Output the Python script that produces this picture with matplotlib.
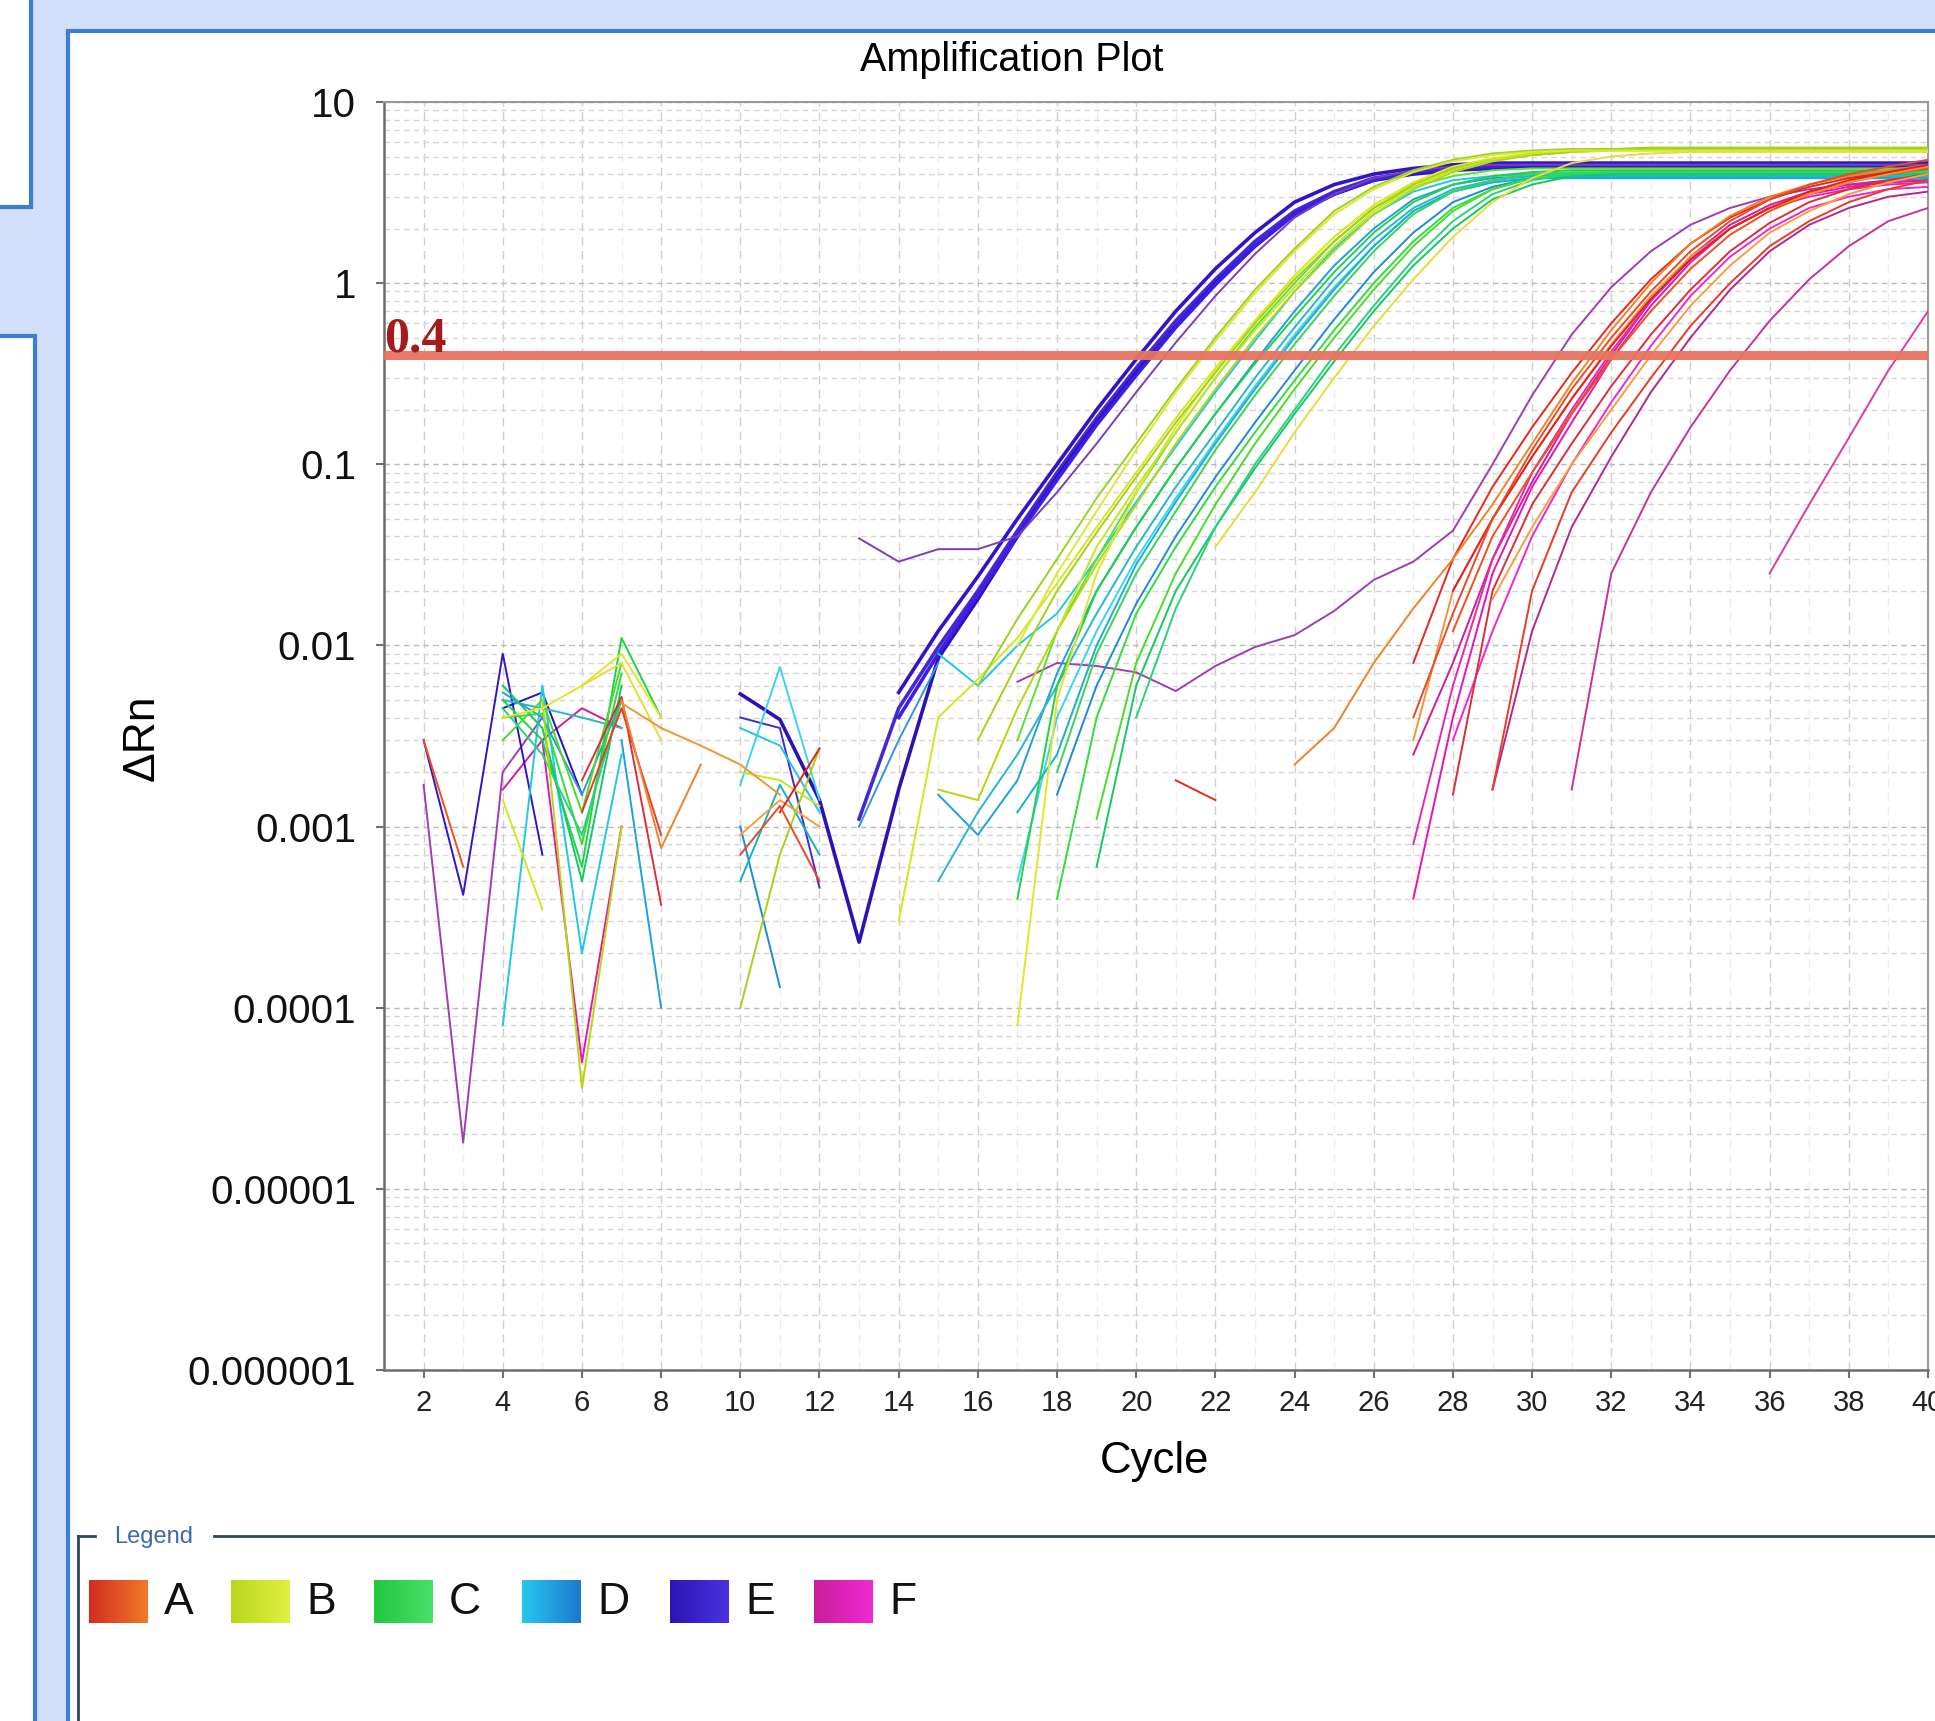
import numpy as np
import matplotlib
matplotlib.use("Agg")
import matplotlib.pyplot as plt
from matplotlib.patches import Rectangle
from matplotlib.colors import LinearSegmentedColormap
from matplotlib.ticker import FixedLocator, NullFormatter, LogLocator

plt.rcParams['font.family'] = ['Liberation Sans', 'DejaVu Sans']

nan = np.nan

# ---- data: (first cycle, dRn per cycle) ----
group_names = ['A', 'B', 'C', 'D', 'E', 'F']
threshold = 0.4
cycle_ticks = list(range(2, 41, 2))
rn_ticks = [1e-6, 1e-5, 1e-4, 1e-3, 1e-2, 1e-1, 1, 10]
rn_tick_labels = ['0.000001', '0.00001', '0.0001', '0.001', '0.01', '0.1', '1', '10']

A_wells = [
    (27, [0.008, 0.03, 0.075, 0.16, 0.32, 0.6, 1.05, 1.65, 2.3, 2.9, 3.4, 3.8, 4.1, 4.3]),
    (28, [0.012, 0.04, 0.09, 0.19, 0.38, 0.7, 1.2, 1.85, 2.5, 3.1, 3.6, 4.0, 4.3]),
    (28, [0.0015, 0.02, 0.06, 0.13, 0.27, 0.52, 0.92, 1.5, 2.15, 2.8, 3.3, 3.7, 4.0]),
    (29, [0.0016, 0.02, 0.07, 0.15, 0.3, 0.58, 1.0, 1.6, 2.2, 2.8, 3.3, 3.7]),
    (24, [0.0022, 0.0035, 0.008, 0.016, 0.03, 0.06, 0.13, 0.28, 0.55, 1.0, 1.65, 2.35, 3.0, 3.5, 3.9, 4.2, 4.5]),
    (27, [0.003, 0.02, 0.05, 0.11, 0.23, 0.46, 0.85, 1.4, 2.0, 2.6, 3.1, 3.6, 4.0, 4.4]),
    (29, [0.018, 0.045, 0.1, 0.2, 0.4, 0.75, 1.25, 1.9, 2.5, 3.1, 3.6, 4.0]),
    (28, [0.02, 0.05, 0.11, 0.23, 0.45, 0.82, 1.35, 2.0, 2.6, 3.2, 3.7, 4.1, 4.5]),
    (27, [0.004, 0.015, 0.05, 0.12, 0.26, 0.5, 0.9, 1.5, 2.2, 2.9, 3.5, 4.0, 4.4, 4.8]),
    (21, [0.0018, 0.0014]),
    (2, [0.003, 0.0006]),
    (6, [0.0018, 0.0052, 0.00037]),
    (6, [0.0012, 0.0045, 0.0009]),
    (7, [0.005, 0.00076, 0.0022]),
    (7, [0.0048, 0.0035, 0.0028, 0.0022, 0.0015]),
    (10, [0.0009, 0.0014, 0.001]),
    (11, [0.0012, 0.0027]),
    (10, [0.0007, 0.0013, 0.0005]),
]

B_wells = [
    (14, [0.0003, 0.004, 0.0065, 0.011, 0.022, 0.045, 0.09, 0.18, 0.34, 0.62, 1.1, 1.8, 2.7, 3.6, 4.3,
          4.8, 5.1, 5.3, 5.4, 5.4, 5.4, 5.4, 5.4, 5.4, 5.4, 5.4, 5.4]),
    (15, [0.0016, 0.0014, 0.0045, 0.012, 0.028, 0.06, 0.13, 0.26, 0.5, 0.9, 1.5, 2.4, 3.3, 4.1, 4.7,
          5.1, 5.3, 5.4, 5.5, 5.5, 5.5, 5.5, 5.5, 5.5, 5.5, 5.5]),
    (17, [0.00008, 0.005, 0.025, 0.07, 0.16, 0.33, 0.62, 1.1, 1.8, 2.7, 3.6, 4.4, 4.9, 5.2, 5.3,
          5.4, 5.4, 5.4, 5.4, 5.4, 5.4, 5.4, 5.4, 5.4]),
    (16, [0.003, 0.008, 0.02, 0.042, 0.085, 0.17, 0.32, 0.6, 1.05, 1.7, 2.6, 3.5, 4.3, 4.8, 5.1,
          5.3, 5.5, 5.6, 5.6, 5.6, 5.6, 5.6, 5.6, 5.6, 5.6]),
    (22, [0.035, 0.07, 0.15, 0.3, 0.58, 1.05, 1.8, 2.8, 3.8, 4.6, 5.0, 5.2, 5.3, 5.3, 5.3, 5.3, 5.3, 5.3, 5.3]),
    (18, [0.012, 0.035, 0.075, 0.15, 0.3, 0.55, 0.95, 1.6, 2.5, 3.4, 4.2, 4.8, 5.2, 5.4, 5.5,
          5.5, 5.5, 5.5, 5.5, 5.5, 5.5, 5.5, 5.5]),
    (16, [0.006, 0.014, 0.03, 0.065, 0.13, 0.26, 0.5, 0.92, 1.55, 2.5, 3.4, 4.2, 4.8, 5.2, 5.4,
          5.5, 5.5, 5.5, 5.5, 5.5, 5.5, 5.5, 5.5, 5.5, 5.5]),
    (17, [0.01, 0.025, 0.055, 0.12, 0.25, 0.48, 0.88, 1.5, 2.4, 3.3, 4.1, 4.7, 5.1, 5.3, 5.4,
          5.4, 5.4, 5.4, 5.4, 5.4, 5.4, 5.4, 5.4, 5.4]),
    (4, [0.0014, 0.00035]),
    (5, [0.005, 0.000036, 0.001]),
    (4, [0.004, 0.0045, 0.006, 0.009, 0.004]),
    (10, [0.0001, 0.0007, 0.0027]),
    (6, [0.006, 0.008, 0.003]),
    (10, [0.002, 0.0018, 0.0013]),
]

C_wells = [
    (17, [0.0004, 0.006, 0.02, 0.045, 0.095, 0.19, 0.36, 0.65, 1.15, 1.9, 2.8, 3.5, 3.9, 4.1, 4.2,
          4.2, 4.2, 4.2, 4.2, 4.2, 4.2, 4.2, 4.2, 4.2]),
    (18, [0.0004, 0.004, 0.015, 0.035, 0.075, 0.15, 0.29, 0.55, 1.0, 1.7, 2.6, 3.3, 3.8, 4.0, 4.1,
          4.1, 4.1, 4.1, 4.1, 4.1, 4.1, 4.1, 4.1]),
    (19, [0.0006, 0.006, 0.02, 0.045, 0.095, 0.19, 0.37, 0.7, 1.25, 2.0, 2.9, 3.5, 3.9, 4.0, 4.0,
          4.0, 4.0, 4.0, 4.0, 4.0, 4.0, 4.0]),
    (19, [0.0011, 0.008, 0.025, 0.06, 0.13, 0.26, 0.5, 0.92, 1.6, 2.5, 3.3, 3.8, 4.0, 4.1, 4.1,
          4.1, 4.1, 4.1, 4.1, 4.1, 4.1, 4.1]),
    (20, [0.004, 0.016, 0.045, 0.1, 0.2, 0.4, 0.75, 1.35, 2.2, 3.1, 3.7, 4.0, 4.1, 4.1, 4.1,
          4.1, 4.1, 4.1, 4.1, 4.1, 4.1]),
    (18, [0.002, 0.009, 0.025, 0.055, 0.12, 0.24, 0.46, 0.85, 1.5, 2.4, 3.2, 3.7, 4.0, 4.1, 4.1,
          4.1, 4.1, 4.1, 4.1, 4.1, 4.1, 4.1, 4.1]),
    (17, [0.003, 0.012, 0.03, 0.07, 0.15, 0.3, 0.57, 1.0, 1.7, 2.6, 3.4, 3.9, 4.2, 4.3, 4.3,
          4.3, 4.3, 4.3, 4.3, 4.3, 4.3, 4.3, 4.3, 4.3]),
    (4, [0.005, 0.003, 0.0006, 0.011, 0.004]),
    (4, [0.004, 0.0042, 0.0008, 0.007]),
    (4, [0.006, 0.0035, 0.0005, 0.006]),
    (4, [0.003, 0.005, 0.0012, 0.008]),
    (4, [0.0045, 0.0025, 0.0009, 0.005]),
]

D_wells = [
    (15, [0.009, 0.006, 0.01, 0.015, 0.03, 0.062, 0.125, 0.25, 0.48, 0.9, 1.55, 2.4, 3.2, 3.7, 3.9,
          4.0, 4.0, 4.0, 4.0, 4.0, 4.0, 4.0, 4.0, 4.0, 4.0, 4.0]),
    (15, [0.0015, 0.0009, 0.0018, 0.007, 0.02, 0.045, 0.095, 0.19, 0.37, 0.7, 1.25, 2.0, 2.9, 3.5, 3.8,
          3.9, 3.9, 3.9, 3.9, 3.9, 3.9, 3.9, 3.9, 3.9, 3.9, 3.9]),
    (15, [0.0005, 0.0012, 0.0025, 0.006, 0.015, 0.035, 0.075, 0.15, 0.3, 0.57, 1.05, 1.75, 2.6, 3.3, 3.7,
          3.9, 3.9, 3.9, 3.9, 3.9, 3.9, 3.9, 3.9, 3.9, 3.9, 3.9]),
    (17, [0.0005, 0.004, 0.012, 0.03, 0.065, 0.135, 0.27, 0.52, 0.95, 1.6, 2.5, 3.2, 3.6, 3.8, 3.8,
          3.8, 3.8, 3.8, 3.8, 3.8, 3.8, 3.8, 3.8, 3.8]),
    (18, [0.0015, 0.006, 0.017, 0.04, 0.085, 0.17, 0.33, 0.63, 1.15, 1.9, 2.8, 3.4, 3.8, 3.8, 3.8,
          3.8, 3.8, 3.8, 3.8, 3.8, 3.8, 3.8, 3.8]),
    (17, [0.0012, 0.0025, 0.01, 0.028, 0.062, 0.13, 0.26, 0.5, 0.92, 1.6, 2.5, 3.2, 3.6, 3.8, 3.8,
          3.8, 3.8, 3.8, 3.8, 3.8, 3.8, 3.8, 3.8, 3.8]),
    (13, [0.001, 0.003, 0.008]),
    (4, [0.00008, 0.006, 0.0002, 0.0025]),
    (7, [0.003, 0.0001]),
    (4, [0.005, 0.0045, 0.004, 0.0035]),
    (10, [0.0017, 0.0076, 0.0014]),
    (10, [0.001, 0.00013]),
    (10, [0.0005, 0.0017, 0.0007]),
    (4, [0.0055, 0.004, 0.0015, 0.005]),
    (10, [0.0035, 0.0028, 0.0012]),
]

E_wells = [
    (14, [0.0055, 0.012, 0.024, 0.05, 0.1, 0.2, 0.38, 0.7, 1.2, 1.9, 2.8, 3.5, 4.0, 4.3, 4.5,
          4.6, 4.6, 4.6, 4.6, 4.6, 4.6, 4.6, 4.6, 4.6, 4.6, 4.6, 4.6]),
    (13, [0.0011, 0.0045, 0.0098, 0.02, 0.043, 0.09, 0.18, 0.34, 0.62, 1.05, 1.7, 2.5, 3.2, 3.8, 4.1,
          4.3, 4.4, 4.5, 4.5, 4.5, 4.5, 4.5, 4.5, 4.5, 4.5, 4.5, 4.5, 4.5]),
    (10, [0.0054, 0.0039, 0.0014, 0.00023, 0.0016, 0.0085, 0.018, 0.04, 0.085, 0.17, 0.32, 0.58, 1.0, 1.6, 2.4,
          3.1, 3.7, 4.0, 4.2, 4.3, 4.4, 4.4, 4.4, 4.4, 4.4, 4.4, 4.4, 4.4, 4.4, 4.4, 4.4]),
    (14, [0.004, 0.009, 0.019, 0.04, 0.082, 0.165, 0.31, 0.57, 0.98, 1.6, 2.4, 3.1, 3.7, 4.1, 4.3,
          4.4, 4.5, 4.5, 4.5, 4.5, 4.5, 4.5, 4.5, 4.5, 4.5, 4.5, 4.5]),
    (13, [0.039, 0.029, 0.034, 0.034, 0.04, 0.07, 0.13, 0.25, 0.47, 0.85, 1.45, 2.3, 3.1, 3.8, 4.2,
          4.4, 4.5, 4.5, 4.5, 4.5, 4.5, 4.5, 4.5, 4.5, 4.5, 4.5, 4.5, 4.5]),
    (2, [0.003, 0.00042, 0.009, 0.0007]),
    (10, [0.004, 0.0035, 0.00046]),
    (4, [0.0045, 0.0055, 0.0015]),
]

F_wells = [
    (17, [0.0063, 0.008, 0.0077, 0.0071, 0.0056, 0.0077, 0.0098, 0.0114, 0.0155, 0.023, 0.029, 0.043,
          0.1, 0.24, 0.52, 0.95, 1.5, 2.1, 2.6, 3.0, 3.3, 3.5, 3.6, 3.7]),
    (27, [0.0004, 0.004, 0.025, 0.075, 0.17, 0.38, 0.75, 1.3, 2.0, 2.6, 3.1, 3.4, 3.6, 3.7]),
    (27, [0.0025, 0.008, 0.03, 0.08, 0.19, 0.4, 0.8, 1.4, 2.1, 2.7, 3.2, 3.5, 3.7, 3.8]),
    (28, [0.003, 0.012, 0.04, 0.1, 0.22, 0.45, 0.85, 1.4, 2.0, 2.6, 3.0, 3.3, 3.4]),
    (29, [0.0016, 0.012, 0.045, 0.11, 0.25, 0.5, 0.92, 1.5, 2.1, 2.6, 3.0, 3.2]),
    (31, [0.0016, 0.025, 0.07, 0.16, 0.33, 0.62, 1.05, 1.6, 2.2, 2.6]),
    (36, [0.025, 0.06, 0.14, 0.33, 0.7]),
    (27, [0.0008, 0.006, 0.03, 0.09, 0.2, 0.42, 0.8, 1.35, 2.0, 2.6, 3.0, 3.3, 3.5, 3.6]),
    (2, [0.0017, 0.000018, 0.002, 0.004]),
    (5, [0.003, 0.00005, 0.001]),
    (4, [0.0016, 0.003, 0.0045, 0.0035]),
]

wells = {'A': A_wells, 'B': B_wells, 'C': C_wells, 'D': D_wells, 'E': E_wells, 'F': F_wells}

line_colors = {
    'A': ['#e8281e', '#f0501e', '#dc2d3c', '#e63c28', '#f08228', '#f09632', '#f5a03c', '#e61e1e', '#e84a2a'],
    'B': ['#d2e61e', '#b4d70f', '#e1e628', '#a5d214', '#e6dc3c', '#c3e628', '#9bd21e', '#d7eb32'],
    'C': ['#1ed246', '#32dc3c', '#14c864', '#4bdc28', '#28d278', '#3cd25a', '#5ae132'],
    'D': ['#1ec8e6', '#1ea0dc', '#28b4d2', '#3cd2f0', '#1e8cd2', '#14b4c8', '#3296dc'],
    'E': ['#3214c8', '#4628d2', '#2814b4', '#3c1ee6', '#7841b4'],
    'F': ['#a03cb4', '#e614b4', '#d21e9b', '#f028c8', '#b4288c', '#c83296', '#dc3ca0', '#e628aa'],
}
swatch_colors = {
    'A': ['#d22c22', '#f07a28'], 'B': ['#b8d81c', '#e0f040'], 'C': ['#20c83c', '#48e068'],
    'D': ['#28c8f0', '#1e78d0'], 'E': ['#2c14b4', '#4a32e0'], 'F': ['#c81e9c', '#f028d2'],
}

W, H = 1935, 1721
fig = plt.figure(figsize=(W / 100, H / 100), dpi=100)
fig.patch.set_facecolor('#d3defa')

# window panels behind the chart
bg = fig.add_axes([0, 0, 1, 1])
bg.axis('off')
border = '#3b80d0'
bg.add_patch(Rectangle((-10, -10), 41, 217, fc='white', ec=border, lw=3))
bg.add_patch(Rectangle((-10, 336), 45, 1500, fc='white', ec=border, lw=3))
bg.add_patch(Rectangle((68, 31), 2000, 1800, fc='white', ec=border, lw=3))

# legend box
frame_col = '#2e4656'
bg.plot([78, 95], [1536, 1536], color=frame_col, lw=2)
bg.plot([214, W + 5], [1536, 1536], color=frame_col, lw=2)
bg.plot([78, 78], [1536, H + 5], color=frame_col, lw=2)
bg.text(114, 1537, 'Legend', color='#3d68b0', fontsize=17, va='center', ha='left')
swatch_x = [89, 231, 374, 522, 670, 814]
for name, x0 in zip(group_names, swatch_x):
    cmap = LinearSegmentedColormap.from_list(name, swatch_colors[name])
    bg.imshow(np.linspace(0, 1, 64)[None, :], cmap=cmap, extent=(x0, x0 + 59, 1623, 1580),
              aspect='auto', zorder=3)
    bg.text(x0 + 75, 1602, name, fontsize=32, va='center', ha='left', color='#111111')
bg.set_xlim(0, W)
bg.set_ylim(H, 0)

# amplification plot
ax = fig.add_axes([384 / W, 1 - 1370 / H, (1928 - 384) / W, (1370 - 102) / H])
ax.set_facecolor('white')
ax.set_yscale('log')

for name in ['F', 'E', 'D', 'C', 'B', 'A']:
    cols = line_colors[name]
    for i, (start, vals) in enumerate(wells[name]):
        x = np.arange(start, start + len(vals))
        lw = 2.6 if (name == 'E' and i < 4) else 1.4
        ax.plot(x, vals, color=cols[i % len(cols)], lw=lw, zorder=3)

ax.axhline(threshold, color='#e8735f', lw=6.5, alpha=0.95, zorder=5)
ax.annotate('0.4', xy=(1, threshold), xytext=(0, 2.5), textcoords='offset points',
            fontsize=36, fontweight='bold', family='Liberation Serif', color='#a51a1a',
            ha='left', va='baseline', zorder=6)

ax.set_xlim(1, 40)
ax.set_ylim(1e-6, 10)
ax.set_xticks(cycle_ticks)
ax.set_xticklabels([str(c) for c in cycle_ticks])
ax.xaxis.set_minor_locator(FixedLocator(list(range(1, 41, 2))))
ax.set_yticks(rn_ticks)
ax.set_yticklabels(rn_tick_labels)
ax.yaxis.set_minor_locator(LogLocator(base=10, subs=np.arange(2, 10)))
ax.yaxis.set_minor_formatter(NullFormatter())

ax.tick_params(axis='y', which='major', labelsize=29, length=6, width=1.5, pad=14,
               color='#707070', labelcolor='#111111')
ax.tick_params(axis='x', which='major', labelsize=21, length=6, width=1.5, pad=8,
               color='#707070', labelcolor='#222222')
ax.tick_params(which='minor', length=0)

ax.grid(which='major', axis='y', color='#b9b9b9', ls=(0, (4, 3)), lw=1)
ax.grid(which='minor', axis='y', color='#d6d6d6', ls=(0, (4, 3)), lw=1)
ax.grid(which='major', axis='x', color='#cfcfcf', ls=(0, (6, 4)), lw=1)
ax.grid(which='minor', axis='x', color='#ededed', ls=(0, (6, 4)), lw=1)
ax.set_axisbelow(True)

for s in ['left', 'bottom']:
    ax.spines[s].set_color('#6e6e6e')
    ax.spines[s].set_linewidth(1.8)
for s in ['top', 'right']:
    ax.spines[s].set_color('#9a9a9a')
    ax.spines[s].set_linewidth(1.5)

fig.text(1012 / W, 1 - 60 / H, 'Amplification Plot', ha='center', va='center', fontsize=28.5)
fig.text(1155 / W, 1 - 1461 / H, 'Cycle', ha='center', va='center', fontsize=31.5)
fig.text(142 / W, 1 - 738 / H, 'ΔRn', ha='center', va='center', rotation=90, fontsize=32)

fig.savefig('out.png', dpi=100)
